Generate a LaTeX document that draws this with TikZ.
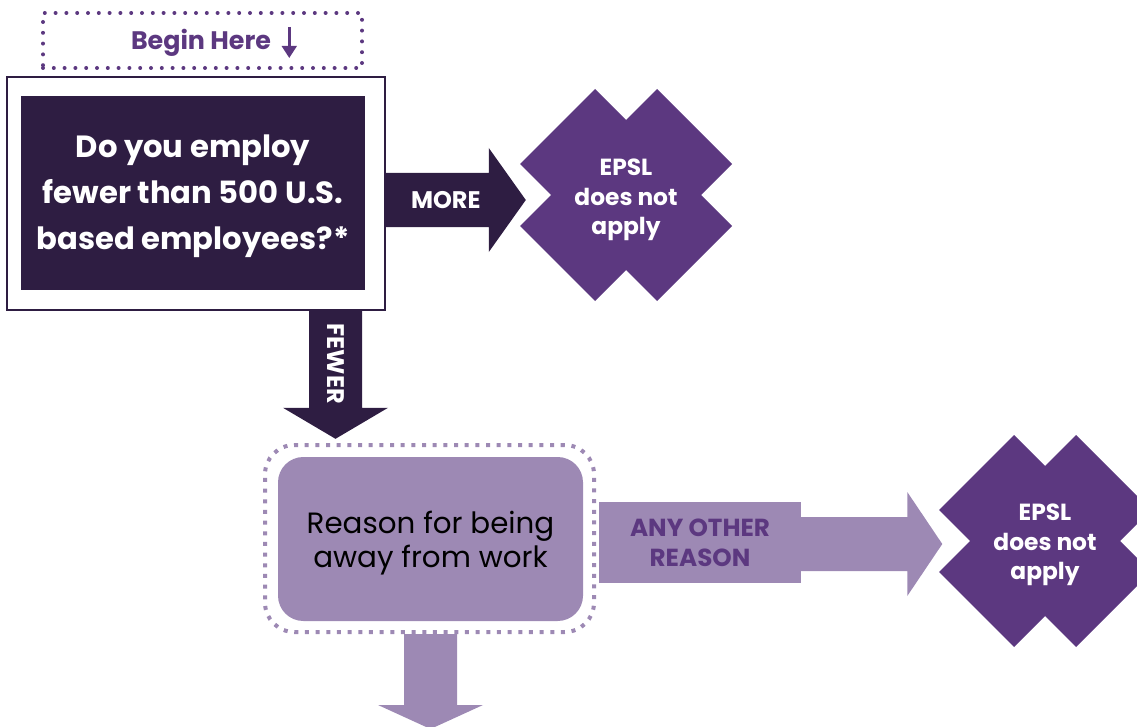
\documentclass[tikz,border=0pt]{standalone}
\usepackage{fontspec}
\setmainfont{Poppins}
\usetikzlibrary{calc,arrows.meta}

\definecolor{plumdark}{RGB}{46,29,66}
\definecolor{plum}{RGB}{92,56,128}
\definecolor{lavender}{RGB}{157,137,180}

\tikzset{
  qtext/.style={text=white, font=\bfseries\fontsize{23}{34.5}\selectfont, align=center, inner sep=0pt},
  armlabel/.style={text=white, font=\bfseries\fontsize{18}{20}\selectfont, inner sep=0pt},
  epsltext/.style={text=white, font=\bfseries\fontsize{17.5}{22}\selectfont, align=center, inner sep=0pt},
  roundots/.style={line width=3pt, dash pattern=on 0pt off 8.1pt, line cap=round},
  squaredots/.style={line width=3pt, dash pattern=on 3pt off 5pt},
}

\begin{document}
\begin{tikzpicture}[x=0.75pt,y=0.75pt,yscale=-1,xscale=1]
\useasboundingbox (0,0) rectangle (1137,727);
\clip (0,0) rectangle (1137,727);

%Begin here
\node[draw=plum, roundots, minimum width=239.25pt, minimum height=41.25pt, inner sep=0pt] (beginbox) at (202.5,40.5) {};
\node[text=plum, font=\bfseries\fontsize{19}{20}\selectfont, inner sep=0pt] (beginlbl) at (201,43) {Begin Here};
\coordinate (begintop) at ($(beginlbl.east)+(18,-16)$);
\coordinate (beginbot) at ($(begintop)+(0,31)$);
\draw[plum, line width=2pt, -{Triangle[width=11pt,length=9pt]}] (begintop) -- (beginbot);

%Question
\node[draw=plumdark, line width=1.2pt, fill=white, minimum width=283.5pt, minimum height=174.75pt, inner sep=0pt] (qframe) at (196,193.5) {};
\node[fill=plumdark, minimum width=258pt, minimum height=145.5pt, qtext] (qbox) at (193,193) {};
\node[qtext] (qlbl) at ($(qbox.center)+(0,3.5)$) {Do you employ\\fewer than 500 U.S.\\based employees?*};

%Crosses
\coordinate (nope1c) at (626,195);
\coordinate (nope2c) at (1045,541);
\foreach \c in {nope1c,nope2c}
  \fill[plum] (\c) ++(-31,-106) -- ++(31,31) -- ++(31,-31) -- ++(75,75) -- ++(-31,31) -- ++(31,31) -- ++(-75,75) -- ++(-31,-31) -- ++(-31,31) -- ++(-75,-75) -- ++(31,-31) -- ++(-31,-31) -- cycle;
\node[epsltext] (nope1) at ($(nope1c)+(0,5)$) {EPSL\\does not\\apply};
\node[epsltext] (nope2) at ($(nope2c)+(0,4)$) {EPSL\\does not\\apply};

%Right Arrow: more
\coordinate (moreS) at ($(qframe.east)+(0,6.5)$);
\fill[plumdark] (moreS) ++(0,-27) -- ++(103,0) -- ++(0,-25) -- ++(37,52) -- ++(-37,52) -- ++(0,-25) -- ++(-103,0) -- cycle;
\node[armlabel] (morelbl) at ($(moreS)+(60,0)$) {MORE};

%Down Arrow: fewer
\coordinate (fewerS) at ($(qframe.south)+(139.5,0)$);
\fill[plumdark] (fewerS) ++(-26.5,0) -- ++(0,97) -- ++(-26,0) -- ++(52.5,31) -- ++(52.5,-31) -- ++(-26,0) -- ++(0,-97) -- cycle;
\node[armlabel, rotate=-90] (fewerlbl) at ($(fewerS)+(0,53)$) {FEWER};

%Reason
\node[draw=lavender, squaredots, rounded corners=22pt, minimum width=246.75pt, minimum height=140.25pt, inner sep=0pt] (reasonring) at (429.5,538.5) {};
\node[fill=lavender, rounded corners=19pt, minimum width=228.75pt, minimum height=123pt, inner sep=0pt] (reason) at (430.5,539) {};
\node[font=\fontsize{22}{25.5}\selectfont, align=center, inner sep=0pt] (reasonlbl) at ($(reason.center)+(0,4)$) {Reason for being\\away from work};

%Down Arrow: next
\coordinate (downS) at ($(reasonring.south)+(1,0)$);
\fill[lavender] (downS) ++(-26.5,0) -- ++(0,71) -- ++(-26,0) -- ++(52.5,24) -- ++(52.5,-24) -- ++(-26,0) -- ++(0,-71) -- cycle;

%Right Arrow: any other reason
\node[fill=lavender, minimum width=151.5pt, minimum height=60.75pt, inner sep=0pt, text=plum, font=\bfseries\fontsize{18.5}{22.5}\selectfont, align=center] (otherlbl) at (700,542.5) {ANY OTHER\\REASON};
\coordinate (otherS) at ($(otherlbl.east)+(-2,1.5)$);
\fill[lavender] (otherS) ++(0,-27) -- ++(108,0) -- ++(0,-25) -- ++(35,52) -- ++(-35,52) -- ++(0,-25) -- ++(-108,0) -- cycle;

\end{tikzpicture}
\end{document}
